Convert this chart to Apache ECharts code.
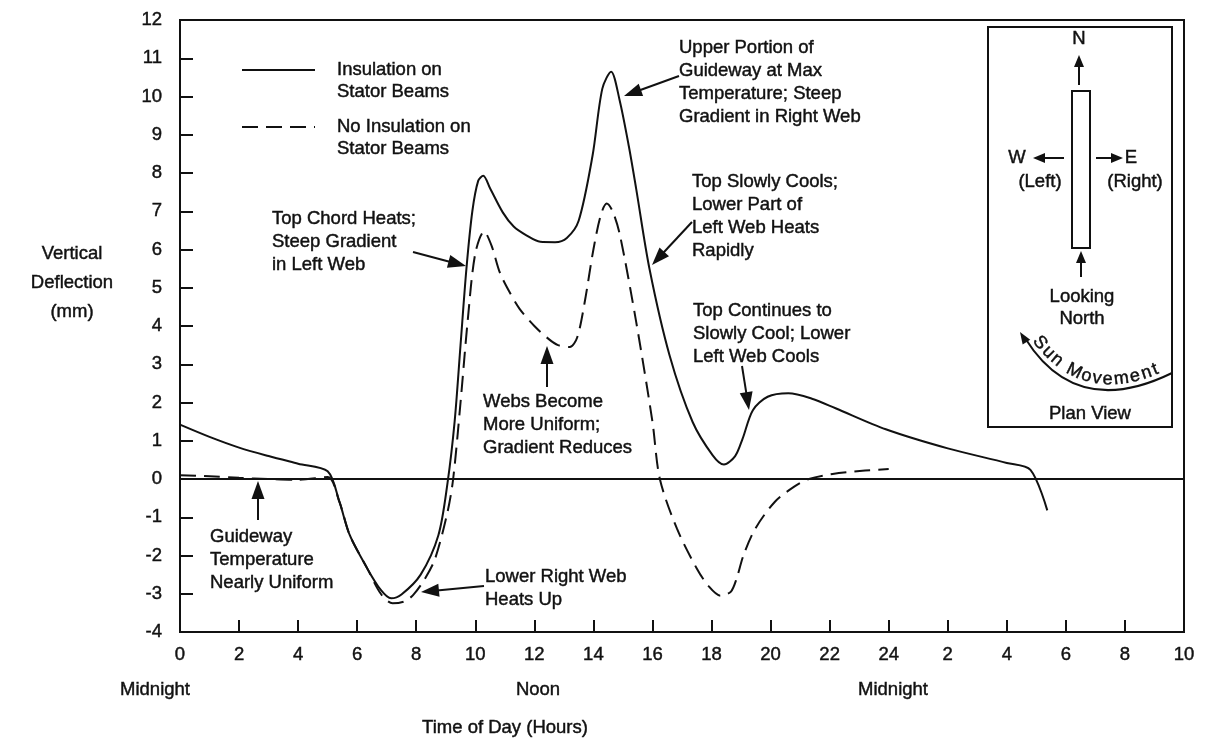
<!DOCTYPE html>
<html>
<head>
<meta charset="utf-8">
<script src="https://cdn.jsdelivr.net/npm/echarts@6/dist/echarts.min.js"></script>
<style>
html,body{margin:0;padding:0;background:#fff;}
#chart{width:1211px;height:738px;}
</style>
</head>
<body>
<div id="chart"></div>
<script>
// ---- data (hours from midnight, deflection mm) ----
const insHours = [0,1,2,3,4,5,5.4,5.75,6.35,6.8,7.15,7.5,8.15,8.75,9.06,9.3,9.5,9.7,9.9,10.1,10.27,10.5,10.93,11.3,11.73,12.2,12.7,13.1,13.5,13.97,14.3,14.6,14.88,15.2,15.45,15.9,16.58,17.36,18.04,18.42,18.8,19.05,19.4,19.9,20.6,21.4,22.2,23.9,26,28,28.8,29.37];
const insDefl  = [1.42,1.1,0.82,0.6,0.4,0.2,-0.6,-1.47,-2.35,-2.9,-3.12,-3.02,-2.5,-1.47,-0.1,1.5,3.5,5.5,7.0,7.8,7.93,7.6,6.97,6.6,6.37,6.2,6.19,6.3,6.75,8.45,10.2,10.65,9.93,8.7,7.58,5.49,3.23,1.49,0.62,0.38,0.6,1.05,1.8,2.15,2.24,2.1,1.85,1.3,0.8,0.42,0.24,-0.82];
const noInsHours = [0,1,2,3,4,5,5.4,5.75,6.35,6.8,7.2,7.6,7.9,8.3,8.64,9.06,9.25,9.5,9.75,10.0,10.3,10.55,10.83,11.15,11.5,12.0,12.5,12.8,13.2,13.45,13.7,14.0,14.25,14.45,14.65,14.9,15.45,16.0,16.25,16.83,17.5,17.9,18.3,18.65,18.85,19.08,19.48,20.14,20.8,21.3,22.1,23.2,24];
const noInsDefl  = [0.1,0.07,0.03,0,-0.02,0.05,-0.6,-1.47,-2.35,-3.0,-3.25,-3.2,-3.03,-2.6,-2.08,-0.86,0,2.0,4.2,5.9,6.47,6.1,5.4,4.9,4.45,4.0,3.65,3.5,3.45,3.7,4.6,6.0,6.9,7.2,7.0,6.37,4.1,1.49,0,-1.3,-2.34,-2.8,-3.05,-2.95,-2.6,-2.0,-1.3,-0.6,-0.2,0,0.13,0.22,0.26];
const seriesNames = ['Insulation on Stator Beams', 'No Insulation on Stator Beams'];
const xTickLabels = ['0','2','4','6','8','10','12','14','16','18','20','22','24','2','4','6','8','10'];
const yTickMin = -4, yTickMax = 12;

const FONT = '"Liberation Sans", Arial, Helvetica, sans-serif';
const INK = '#111';
const FS = 18.5;
const HEAVY = {textBorderColor: INK, textBorderWidth: 0.45};      // for echarts label styles
const GHEAVY = {stroke: INK, lineWidth: 0.45};                    // for graphic text elements

function zip(a, b) { return a.map((v, i) => [v, b[i]]); }

function txt(text, x, y, extra) {
  return {type: 'text', x: x, y: y, z: 100,
    style: Object.assign({text: text, fontSize: FS, fontFamily: FONT, fill: INK,
      align: 'left', verticalAlign: 'top', lineHeight: 22.7}, GHEAVY, extra || {})};
}
function arrow(x1, y1, x2, y2, len, hw, lw) {
  len = len || 18; hw = hw || 6.5; lw = lw || 2;
  const dx = x2 - x1, dy = y2 - y1, L = Math.hypot(dx, dy), ux = dx / L, uy = dy / L;
  const bx = x2 - ux * len, by = y2 - uy * len;
  return [
    {type: 'line', z: 100, shape: {x1: x1, y1: y1, x2: bx + ux * 2, y2: by + uy * 2}, style: {stroke: INK, lineWidth: lw}},
    {type: 'polygon', z: 100, shape: {points: [[x2, y2], [bx - uy * hw, by + ux * hw], [bx + uy * hw, by - ux * hw]]}, style: {fill: INK}}
  ];
}

const g = [];
// annotations
g.push(txt('Upper Portion of\nGuideway at Max\nTemperature; Steep\nGradient in Right Web', 679, 37));
g.push(...arrow(679, 76, 624, 96));
g.push(txt('Top Slowly Cools;\nLower Part of\nLeft Web Heats\nRapidly', 692, 171));
g.push(...arrow(692, 222, 652, 265));
g.push(txt('Top Chord Heats;\nSteep Gradient\nin Left Web', 272, 208));
g.push(...arrow(413, 252, 466, 266));
g.push(txt('Webs Become\nMore Uniform;\nGradient Reduces', 483, 391));
g.push(...arrow(547, 387, 547, 346));
g.push(txt('Top Continues to\nSlowly Cool; Lower\nLeft Web Cools', 693, 300));
g.push(...arrow(742, 366, 749, 410));
g.push(txt('Guideway\nTemperature\nNearly Uniform', 210, 526));
g.push(...arrow(258, 520, 258, 481));
g.push(txt('Lower Right Web\nHeats Up', 485, 566));
g.push(...arrow(484, 586, 421, 592));
// x-axis extra labels
g.push(txt('Midnight', 155, 690, {align: 'center', verticalAlign: 'middle'}));
g.push(txt('Noon', 538, 690, {align: 'center', verticalAlign: 'middle'}));
g.push(txt('Midnight', 893, 690, {align: 'center', verticalAlign: 'middle'}));
g.push(txt('Time of Day (Hours)', 505, 728, {align: 'center', verticalAlign: 'middle'}));

// inset plan view
g.push({type: 'rect', z: 99, shape: {x: 988, y: 27, width: 184, height: 400}, style: {stroke: INK, lineWidth: 2, fill: '#fff'}});
g.push({type: 'rect', z: 100, shape: {x: 1072, y: 91, width: 18, height: 157}, style: {stroke: INK, lineWidth: 2, fill: '#fff'}});
g.push(txt('N', 1079, 39, {align: 'center', verticalAlign: 'middle'}));
g.push(...arrow(1079, 85, 1079, 55, 12, 5));
g.push(txt('W', 1017, 158, {align: 'center', verticalAlign: 'middle'}));
g.push(...arrow(1064, 158, 1033, 158, 12, 5));
g.push(txt('E', 1131, 158, {align: 'center', verticalAlign: 'middle'}));
g.push(...arrow(1096, 158, 1123, 158, 12, 5));
g.push(txt('(Left)', 1040, 182, {align: 'center', verticalAlign: 'middle'}));
g.push(txt('(Right)', 1135, 182, {align: 'center', verticalAlign: 'middle'}));
g.push(...arrow(1081, 277, 1081, 251, 12, 5));
g.push(txt('Looking\nNorth', 1082, 286, {align: 'center', lineHeight: 22}));
g.push(txt('Plan View', 1090, 414, {align: 'center', verticalAlign: 'middle'}));

// sun movement arc
const P0 = [1020, 332], C = [1076, 420], P2 = [1172, 373];
g.push({type: 'bezierCurve', z: 100, shape: {x1: P2[0], y1: P2[1], cpx1: C[0], cpy1: C[1], x2: P0[0] + 5, y2: P0[1] + 6},
  style: {stroke: INK, lineWidth: 2, fill: null}});
(function () {
  const d0 = [C[0] - P0[0], C[1] - P0[1]], L = Math.hypot(d0[0], d0[1]);
  const ux = d0[0] / L, uy = d0[1] / L, len = 12, hw = 4.5;
  const bx = P0[0] + ux * len, by = P0[1] + uy * len;
  g.push({type: 'polygon', z: 100, shape: {points: [P0, [bx - uy * hw, by + ux * hw], [bx + uy * hw, by - ux * hw]]}, style: {fill: INK}});
  const pt = t => [(1 - t) * (1 - t) * P0[0] + 2 * (1 - t) * t * C[0] + t * t * P2[0], (1 - t) * (1 - t) * P0[1] + 2 * (1 - t) * t * C[1] + t * t * P2[1]];
  const N = 400, samples = [], cum = [0];
  for (let i = 0; i <= N; i++) samples.push(pt(i / N));
  for (let i = 1; i <= N; i++) cum.push(cum[i - 1] + Math.hypot(samples[i][0] - samples[i - 1][0], samples[i][1] - samples[i - 1][1]));
  function at(s) {
    let i = 1; while (i < N && cum[i] < s) i++;
    const a = samples[i - 1], b = samples[i];
    const f = (s - cum[i - 1]) / (cum[i] - cum[i - 1] || 1);
    const tx = b[0] - a[0], ty = b[1] - a[1], tl = Math.hypot(tx, ty);
    return {x: a[0] + (b[0] - a[0]) * f, y: a[1] + (b[1] - a[1]) * f, tx: tx / tl, ty: ty / tl};
  }
  const ctx = document.createElement('canvas').getContext('2d');
  const fs = 18;
  ctx.font = fs + 'px ' + FONT;
  const word = 'Sun Movement', spacing = 2.6, off = 10;
  let s = 15;
  for (const ch of word) {
    const w = ctx.measureText(ch).width;
    const p = at(s + w / 2);
    if (ch !== ' ') {
      g.push({type: 'text', z: 100, x: p.x + p.ty * off, y: p.y - p.tx * off,
        rotation: -Math.atan2(p.ty, p.tx),
        style: Object.assign({text: ch, fontSize: fs, fontFamily: FONT, fill: INK, align: 'center', verticalAlign: 'middle'}, GHEAVY)});
    }
    s += w + spacing;
  }
})();

const chart = echarts.init(document.getElementById('chart'), null, {renderer: 'canvas'});
chart.setOption({
  animation: false,
  backgroundColor: '#fff',
  textStyle: {fontFamily: FONT, color: INK},
  grid: {left: 180, right: 27, top: 20, bottom: 106, show: true, borderColor: INK, borderWidth: 2,
    containLabel: false, outerBoundsMode: 'none'},
  legend: {
    data: seriesNames, orient: 'vertical', left: 241, top: 37, padding: 0,
    itemWidth: 73, itemHeight: 14, itemGap: -9, selectedMode: false,
    itemStyle: {opacity: 0},
    formatter: n => '\n' + n.replace(' Stator', '\nStator'),
    textStyle: Object.assign({fontSize: FS, fontFamily: FONT, color: INK, lineHeight: 22, padding: [0, 0, 0, 17]}, HEAVY)
  },
  xAxis: {
    type: 'value', min: 0, max: 34, interval: 2, position: 'bottom',
    axisLine: {show: true, onZero: false, lineStyle: {color: INK, width: 2}},
    axisTick: {show: true, inside: true, length: 12, lineStyle: {color: INK, width: 2}},
    axisLabel: Object.assign({fontSize: FS, color: INK, margin: 13, fontFamily: FONT, formatter: v => xTickLabels[Math.round(v / 2)]}, HEAVY),
    splitLine: {show: false}
  },
  yAxis: {
    type: 'value', min: yTickMin, max: yTickMax, interval: 1, position: 'left',
    name: 'Vertical\nDeflection\n(mm)\n\n\n', nameLocation: 'middle', nameGap: 108, nameRotate: 0,
    nameTextStyle: Object.assign({fontSize: FS, color: INK, fontFamily: FONT, align: 'center', verticalAlign: 'middle', lineHeight: 29}, HEAVY),
    axisLine: {show: true, onZero: false, lineStyle: {color: INK, width: 2}},
    axisTick: {show: true, inside: true, length: 13, lineStyle: {color: INK, width: 2}},
    axisLabel: Object.assign({fontSize: FS, color: INK, margin: 18, fontFamily: FONT}, HEAVY),
    splitLine: {show: false}
  },
  series: [
    {
      type: 'line', name: seriesNames[0], data: zip(insHours, insDefl),
      symbol: 'none', showSymbol: false, smooth: 0.3,
      lineStyle: {color: INK, width: 2}, itemStyle: {color: INK},
      markLine: {silent: true, symbol: 'none', label: {show: false},
        lineStyle: {color: INK, type: 'solid', width: 2}, data: [{yAxis: 0}]}
    },
    {
      type: 'line', name: seriesNames[1], data: zip(noInsHours, noInsDefl),
      symbol: 'none', showSymbol: false, smooth: 0.3,
      lineStyle: {color: INK, width: 2, type: [16, 8]}, itemStyle: {color: INK}
    }
  ],
  graphic: g
});
</script>
</body>
</html>
